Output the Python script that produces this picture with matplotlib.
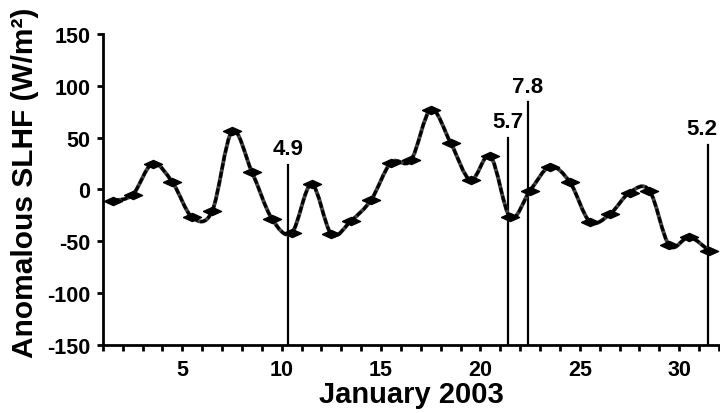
import numpy as np
import matplotlib
matplotlib.use("Agg")
import matplotlib.pyplot as plt
from matplotlib.path import Path
from matplotlib.patches import PathPatch

plt.rcParams['font.family'] = ['Liberation Sans', 'DejaVu Sans']
plt.rcParams['font.weight'] = 'bold'
plt.rcParams['axes.unicode_minus'] = False

# daily anomalous SLHF, Jan 1..31 2003 (plotted at mid-day)
days = np.arange(1, 32) + 0.5
slhf = [-11, -5, 25, 7, -27, -21, 56, 17, -28, -42,
        5, -43, -30, -10, 26, 28, 77, 45, 9, 32,
        -27, -1, 22, 7, -31, -24, -3, -1, -54, -46, -59]

# earthquake times and magnitudes
eq_day = [10.32, 21.38, 22.37, 31.44]
eq_top = [24, 50, 84, 43]
eq_mag = ["4.9", "5.7", "7.8", "5.2"]


def smooth_path(x, y):
    # catmull-rom curve through the points, as cubic bezier segments
    pts = np.column_stack([x, y]).astype(float)
    verts = [pts[0]]
    codes = [Path.MOVETO]
    n = len(pts)
    for i in range(n - 1):
        p0 = pts[i - 1] if i > 0 else pts[i]
        p1 = pts[i]
        p2 = pts[i + 1]
        p3 = pts[i + 2] if i + 2 < n else pts[i + 1]
        verts += [p1 + (p2 - p0) / 6.0, p2 - (p3 - p1) / 6.0, p2]
        codes += [Path.CURVE4] * 3
    return Path(verts, codes)


fig = plt.figure(figsize=(7.2, 4.14), dpi=100)
ax = fig.add_axes([0.1428, 0.1643, 0.8572, 0.7512])

path = smooth_path(days, slhf)
ax.add_patch(PathPatch(path, fill=False, edgecolor='#444444', lw=2.8, zorder=3))
ax.add_patch(PathPatch(path, fill=False, edgecolor='black', lw=2.2,
                       linestyle=(0, (2.0, 0.8)), zorder=3))

diamond = [(-1, 0), (0, 0.45), (1, 0), (0, -0.45), (-1, 0)]
ax.plot(days, slhf, linestyle='none', marker=diamond, markersize=13,
        color='black', zorder=4)

for i, (d, top, m) in enumerate(zip(eq_day, eq_top, eq_mag)):
    ax.plot([d, d], [-150, top], color='black', lw=1.6, zorder=2)
    # last label sits at the right edge, nudge it in so it isn't cut
    dx = -4 if i == len(eq_day) - 1 else 0
    ax.annotate(m, (d, top), xytext=(dx, 4), textcoords='offset points',
                ha='center', va='bottom', fontsize=16, fontweight='bold',
                annotation_clip=False)

ax.set_xlim(1, 32.05)
ax.set_ylim(-150, 150)
ax.set_yticks(np.arange(-150, 151, 50))
ax.set_xticks(np.arange(1, 33), minor=False)
ax.set_xticklabels([str(i) if i % 5 == 0 else '' for i in range(1, 33)])

for s in ['top', 'right']:
    ax.spines[s].set_visible(False)
for s in ['left', 'bottom']:
    ax.spines[s].set_linewidth(2.0)

ax.tick_params(axis='both', labelsize=15.5, width=2.0, length=4)
ax.tick_params(axis='x', pad=6)
ax.tick_params(axis='y', pad=5)
for lab in ax.get_xticklabels() + ax.get_yticklabels():
    lab.set_fontweight('bold')

ax.set_xlabel("January 2003", fontsize=21, fontweight='bold', labelpad=0)
fig.text(25 / 720, 0.559, "Anomalous SLHF (W/m²)", rotation=90,
         ha='center', va='center', fontsize=21.5, fontweight='bold')

fig.savefig("out.png", dpi=100)
